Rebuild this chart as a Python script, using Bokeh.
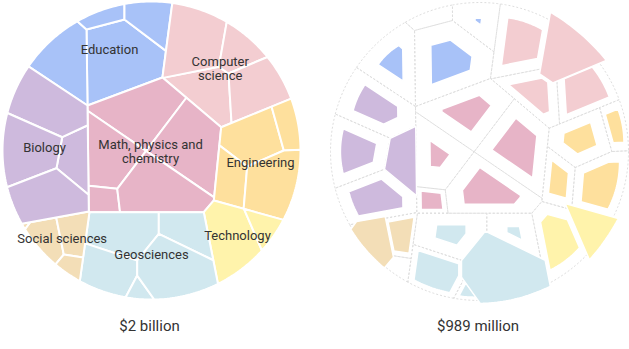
import numpy as np
from bokeh.plotting import figure
from bokeh.models import Range1d, ColumnDataSource
from bokeh.embed import file_html
from bokeh.resources import INLINE
from bokeh.core.properties import value

# ---------------- data ----------------
CATEGORIES = ["Education", "Computer science", "Math, physics and chemistry", "Engineering",
              "Technology", "Geosciences", "Social sciences", "Biology"]
CATEGORY_LABELS = [["Education"], ["Computer", "science"], ["Math, physics and", "chemistry"],
                   ["Engineering"], ["Technology"], ["Geosciences"], ["Social sciences"], ["Biology"]]
TOTAL_LABELS = ["$2 billion", "$989 million"]

# every program (cell) belongs to one category
CELL_CATEGORY = [0, 0, 0, 0,
                 1, 1, 1, 1,
                 2, 2, 2, 2, 2,
                 3, 3, 3, 3,
                 4, 4,
                 5, 5, 5, 5, 5,
                 6, 6, 6, 6,
                 7, 7, 7, 7]
# funding of each program in the second total, as a share of its funding in the first
CELL_RETAINED = [0.27, 0.18, 0.0, 0.02,
                 0.36, 0.41, 1.88, 0.52,
                 0.25, 0.36, 0.12, 0.49, 0.36,
                 0.28, 0.42, 0.36, 0.46,
                 0.45, 1.82,
                 0.18, 0.08, 0.61, 0.36, 1.21,
                 1.21, 0.0, 0.61, 0.006,
                 1.0, 0.31, 0.37, 0.44]

# ---------------- styles ----------------
CATEGORY_COLORS = ["#a8c2f8", "#f3cdd1", "#e7b4c7", "#fee09d", "#fff3ab", "#d1e8ef", "#f3deb7", "#cebadd"]
FONT = "Roboto"
TEXT_COLOR = "#333333"
DASH_COLOR = "#dedede"

# ---------------- layout: power-diagram generators (px, relative to circle centre, y down) ----------------
RADIUS = 149.0
CENTERS = [(151.0, 150.0), (479.0, 151.0)]
CAT_SITE_U = [-17.5, 33.88, 0.0, 52.34, 43.43, 0.0, -41.75, -48.9]
CAT_SITE_V = [-46.85, -40.02, 0.0, 5.26, 37.15, 45.75, 39.9, 0.61]
CAT_WEIGHT = [-3959.0, -3838.0, 0.0, -4284.0, -5860.0, -3553.0, -6770.0, -3813.0]
CELL_SITE_U = [0, -30, -6.75, 19.39,
               0, -5.82, 17.48, 27.44,
               0, 23.9, -16.94, -19.28, 6.96,
               0, 28.9, -50.79, 32.34,
               0, 27.54,
               0, 30, -5.73, 9.89, 21.54,
               0, -24.06, 29.39, 25.27,
               0, -12.72, -22.85, -14.48]
CELL_SITE_V = [0, 0.39, -25.66, -25.67,
               0, -29.43, -25.31, -1.69,
               0, 18.14, 24.76, 46.04, 42.9,
               0, -8.04, 67.02, 73.97,
               0, -11.9,
               0, 0, 17.43, 25.73, 17.43,
               0, -17.91, -5.99, 20.98,
               0, -27.17, -4.2, 17.5]
CELL_WEIGHT = [0, -2904.4, -6383.2, -4641.9,
               0, -3242.9, -5644.5, -3729.4,
               0, 1147.3, 702.2, 502.9, 1938.0,
               0, -6748.1, 14648.1, -2039.2,
               0, -2803.2,
               0, 462.0, -3661.3, -4867.5, -2450.6,
               0, -2369.8, 7302.6, 1148.5,
               0, -2093.8, -3653.2, -2855.8]
LABEL_U = [-42, 68.75, -1, 109, 86, 0, -89.3, -107]
LABEL_V = [-101, -82, 1, 11.7, 84.5, 104, 87.5, -3]
LINE_STEP = 14.5
TOTAL_LABEL_Y = 325


# ---------------- geometry ----------------
def clip(poly, a, c):
    """Keep the part of a convex polygon where a.x <= c."""
    out = []
    n = len(poly)
    for k in range(n):
        p = poly[k]
        q = poly[(k + 1) % n]
        dp = a[0] * p[0] + a[1] * p[1] - c
        dq = a[0] * q[0] + a[1] * q[1] - c
        if dp <= 0:
            out.append(p)
        if (dp < 0 < dq) or (dq < 0 < dp):
            t = dp / (dp - dq)
            out.append((p[0] + t * (q[0] - p[0]), p[1] + t * (q[1] - p[1])))
    return out


def power_cell(base, su, sv, w, i, members):
    poly = base
    for j in members:
        if j == i:
            continue
        a = (2 * (su[j] - su[i]), 2 * (sv[j] - sv[i]))
        c = (su[j] ** 2 + sv[j] ** 2) - (su[i] ** 2 + sv[i] ** 2) - w[j] + w[i]
        poly = clip(poly, a, c)
        if len(poly) < 3:
            return []
    return poly


def centroid(poly):
    x = np.array([p[0] for p in poly])
    y = np.array([p[1] for p in poly])
    x1, y1 = np.roll(x, -1), np.roll(y, -1)
    cr = x * y1 - x1 * y
    A = cr.sum() / 2
    return ((x + x1) * cr).sum() / (6 * A), ((y + y1) * cr).sum() / (6 * A)


ang = np.linspace(0, 2 * np.pi, 360, endpoint=False)
disc = [(RADIUS * np.cos(t), RADIUS * np.sin(t)) for t in ang]

cat_polys = [power_cell(disc, CAT_SITE_U, CAT_SITE_V, CAT_WEIGHT, i, range(len(CATEGORIES)))
             for i in range(len(CATEGORIES))]
cell_polys = []
for i, cat in enumerate(CELL_CATEGORY):
    siblings = [j for j, cc in enumerate(CELL_CATEGORY) if cc == cat]
    cell_polys.append(power_cell(cat_polys[cat], CELL_SITE_U, CELL_SITE_V, CELL_WEIGHT, i, siblings))

# ---------------- figure ----------------
W, H = 629, 349
p = figure(width=W, height=H, x_range=Range1d(0, W), y_range=Range1d(H, 0),
           output_backend="svg", toolbar_location=None, min_border=0,
           x_axis_type=None, y_axis_type=None)
p.grid.visible = False
p.outline_line_color = None
p.background_fill_color = "white"

# left: full treemap
cx, cy = CENTERS[0]
xs, ys, cols = [], [], []
for poly, cat in zip(cell_polys, CELL_CATEGORY):
    if not poly:
        continue
    xs.append([cx + q[0] for q in poly])
    ys.append([cy + q[1] for q in poly])
    cols.append(CATEGORY_COLORS[cat])
p.patches(xs="xs", ys="ys", fill_color="c", line_color="white", line_width=2,
          source=ColumnDataSource(dict(xs=xs, ys=ys, c=cols)))

# right: outlines of the same cells, dashed, with each cell rescaled by what it kept
cx2, cy2 = CENTERS[1]
oxs, oys = [], []
fxs, fys, fcols = [], [], []
for poly, cat, kept in zip(cell_polys, CELL_CATEGORY, CELL_RETAINED):
    if not poly:
        continue
    oxs.append([cx2 + q[0] for q in poly])
    oys.append([cy2 + q[1] for q in poly])
    if kept <= 0:
        continue
    k = np.sqrt(kept)
    gx, gy = centroid(poly)
    fxs.append([cx2 + gx + k * (q[0] - gx) for q in poly])
    fys.append([cy2 + gy + k * (q[1] - gy) for q in poly])
    fcols.append(CATEGORY_COLORS[cat])
p.patches(xs="xs", ys="ys", fill_color=None, line_color=DASH_COLOR, line_width=1,
          line_dash="2 2", source=ColumnDataSource(dict(xs=oxs, ys=oys)))
p.patches(xs="xs", ys="ys", fill_color="c", line_color="white", line_width=1.5,
          source=ColumnDataSource(dict(xs=fxs, ys=fys, c=fcols)))

# category labels
tx, ty, tt = [], [], []
for lines, u, v in zip(CATEGORY_LABELS, LABEL_U, LABEL_V):
    n = len(lines)
    for li, line in enumerate(lines):
        tx.append(cx + u)
        ty.append(cy + v + (li - (n - 1) / 2) * LINE_STEP)
        tt.append(line)
p.text(x="x", y="y", text="t", source=ColumnDataSource(dict(x=tx, y=ty, t=tt)),
       text_font=value(FONT), text_font_size="13px", text_color=TEXT_COLOR,
       text_align="center", text_baseline="middle")

# totals
p.text(x=[CENTERS[0][0] - 2, CENTERS[1][0] - 1.5], y=[TOTAL_LABEL_Y, TOTAL_LABEL_Y], text=TOTAL_LABELS,
       text_font=value(FONT), text_font_size="15px", text_color=TEXT_COLOR,
       text_align="center", text_baseline="middle")

open("out.html", "w").write(file_html(p, INLINE))
